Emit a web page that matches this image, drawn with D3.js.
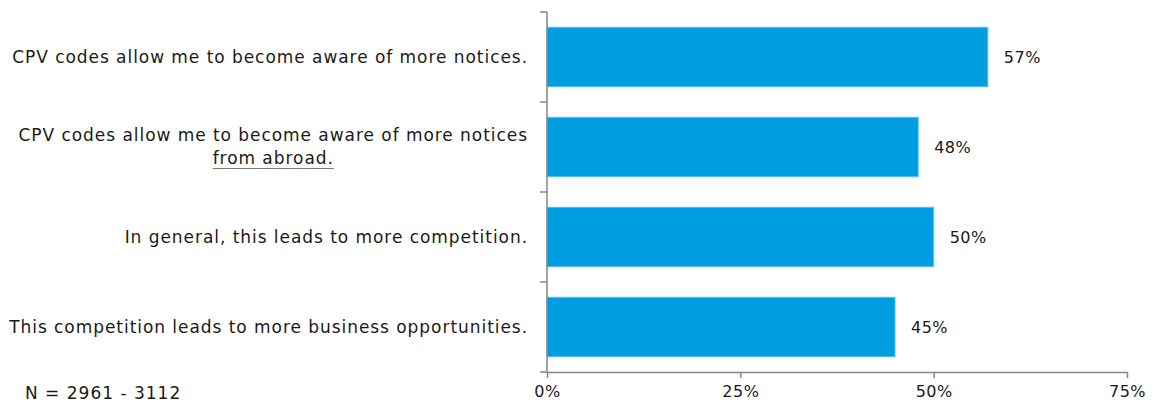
<!DOCTYPE html>
<html>
<head>
<meta charset="utf-8">
<script src="https://cdn.jsdelivr.net/npm/d3@7"></script>
<style>
  html, body { margin: 0; padding: 0; background: #fff; }
  svg { display: block; font-family: "DejaVu Sans", Verdana, sans-serif; }
</style>
</head>
<body>
<svg id="chart" width="1156" height="405"></svg>
<script>
// Survey statements (one entry per line of the label) and share agreeing
const statements = [
  ["CPV codes allow me to become aware of more notices."],
  ["CPV codes allow me to become aware of more notices", "from abroad."],
  ["In general, this leads to more competition."],
  ["This competition leads to more business opportunities."]
];
const shares = [57, 48, 50, 45];
const tickValues = [0, 25, 50, 75];
const sampleNote = "N = 2961 - 3112";

const svg = d3.select("#chart");
const plot = { left: 547, right: 1127, top: 12, bottom: 372 };

const x = d3.scaleLinear().domain([0, 75]).range([plot.left, plot.right]);
const y = d3.scaleBand()
  .domain(d3.range(statements.length))
  .range([plot.top, plot.bottom])
  .paddingInner(0.34)
  .paddingOuter(0.17);

const axisColor = "#868686";
const textColor = "#1a1a1a";

// Bars
svg.append("g").selectAll("rect")
  .data(shares)
  .join("rect")
  .attr("x", x(0))
  .attr("y", (d, i) => y(i))
  .attr("width", d => x(d) - x(0))
  .attr("height", y.bandwidth())
  .attr("fill", "#009de0")
  .attr("stroke", "#56c0ee")
  .attr("stroke-width", 1);

// Value labels
svg.append("g").selectAll("text")
  .data(shares)
  .join("text")
  .attr("x", d => x(d) + 16)
  .attr("y", (d, i) => y(i) + y.bandwidth() / 2)
  .attr("dy", "0.35em")
  .attr("font-size", 16)
  .attr("letter-spacing", 0.5)
  .attr("fill", textColor)
  .text(d => d + "%");

// Vertical axis with ticks between categories
const boundaries = d3.range(statements.length + 1).map(i => plot.top + i * y.step());
const yAxis = svg.append("g");
yAxis.append("line")
  .attr("x1", plot.left).attr("x2", plot.left)
  .attr("y1", plot.top).attr("y2", plot.bottom)
  .attr("stroke", axisColor).attr("stroke-width", 1.5);
yAxis.selectAll("line.tick")
  .data(boundaries)
  .join("line")
  .attr("class", "tick")
  .attr("x1", plot.left - 7).attr("x2", plot.left)
  .attr("y1", d => d).attr("y2", d => d)
  .attr("stroke", axisColor).attr("stroke-width", 1.5);

// Horizontal axis
const xAxis = svg.append("g")
  .attr("transform", `translate(0,${plot.bottom})`)
  .call(d3.axisBottom(x).tickValues(tickValues).tickSize(6).tickSizeOuter(0).tickFormat(d => d + "%"));
xAxis.select(".domain").attr("stroke", axisColor).attr("stroke-width", 1.5);
xAxis.selectAll(".tick line").attr("stroke", axisColor).attr("stroke-width", 1.5);
xAxis.selectAll(".tick text")
  .attr("font-size", 16)
  .attr("letter-spacing", 0.5)
  .attr("font-family", "DejaVu Sans, Verdana, sans-serif")
  .attr("fill", textColor)
  .attr("y", 14);

// Category labels, right-aligned block with centred lines
const labelRight = 528;
const lineGap = 23;
statements.forEach((lines, i) => {
  const g = svg.append("g");
  const cy = y(i) + y.bandwidth() / 2;
  const startY = cy - (lines.length - 1) * lineGap / 2;
  const texts = lines.map((line, j) => g.append("text")
    .attr("y", startY + j * lineGap)
    .attr("dy", "0.35em")
    .attr("font-size", 17)
    .attr("letter-spacing", 0.95)
    .attr("fill", textColor)
    .text(line));
  const widths = texts.map(t => t.node().getComputedTextLength());
  const blockW = d3.max(widths);
  const centre = labelRight - blockW / 2;
  texts.forEach((t, j) => {
    t.attr("x", centre).attr("text-anchor", "middle");
    if (j > 0) {
      g.append("line")
        .attr("x1", centre - widths[j] / 2).attr("x2", centre + widths[j] / 2)
        .attr("y1", startY + j * lineGap + 10).attr("y2", startY + j * lineGap + 10)
        .attr("stroke", "#7a7a7a").attr("stroke-width", 1);
    }
  });
});

// Sample size note
svg.append("text")
  .attr("x", 25)
  .attr("y", 393)
  .attr("dy", "0.35em")
  .attr("font-size", 17)
  .attr("letter-spacing", 1)
  .attr("fill", textColor)
  .text(sampleNote);
</script>
</body>
</html>
